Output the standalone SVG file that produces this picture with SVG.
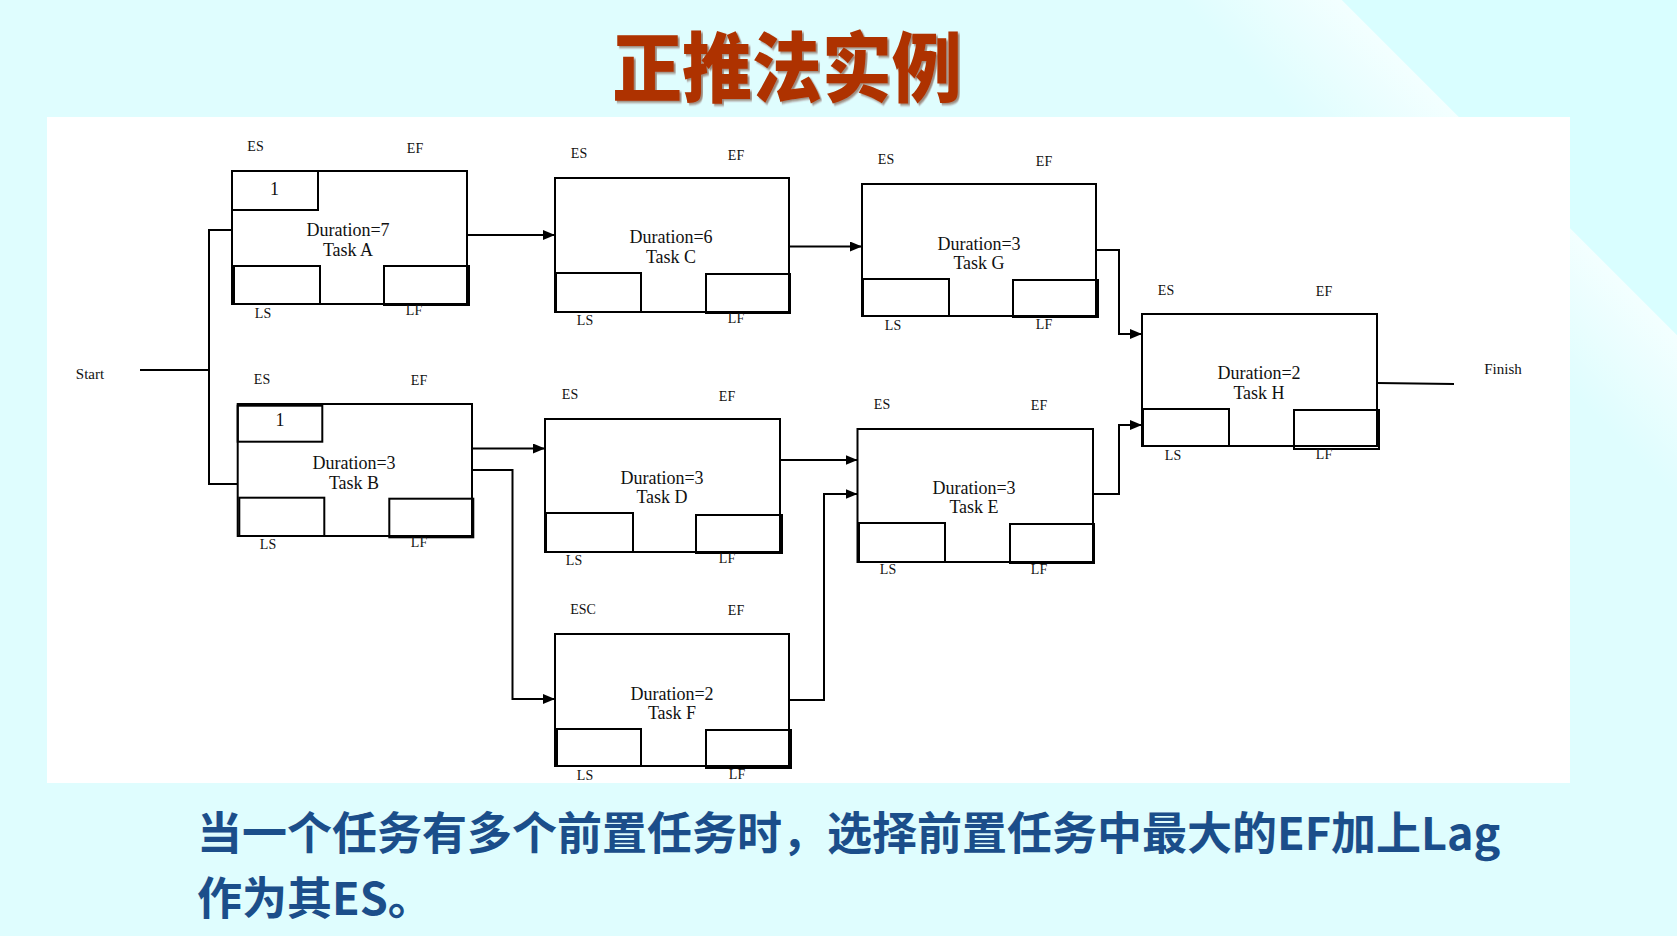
<svg xmlns="http://www.w3.org/2000/svg" width="1677" height="936" viewBox="0 0 1677 936">
<style>
.box{fill:#fff;stroke:#000;stroke-width:2}
.sub{fill:none;stroke:#000;stroke-width:2}
.lbl{font-family:"Liberation Serif",serif;font-size:14px;text-anchor:middle;fill:#111}
.end{font-family:"Liberation Serif",serif;font-size:15px;text-anchor:middle;fill:#111}
.dur{font-family:"Liberation Serif",serif;font-size:18px;text-anchor:middle;fill:#111}
.conn{fill:none;stroke:#000;stroke-width:2}
.arr{marker-end:url(#ah)}
.title{font-family:"Noto Sans CJK SC",sans-serif;font-weight:900;font-size:76px;fill:#AE3300;text-anchor:middle}
.note{font-family:"Noto Sans CJK SC",sans-serif;font-weight:700;font-size:45px;fill:#1B4E8A}
</style>
<defs>
<marker id="ah" viewBox="0 0 12 10" refX="12" refY="5" markerWidth="12" markerHeight="10" markerUnits="userSpaceOnUse" orient="auto">
<path d="M0,0 L12,5 L0,10 z" fill="#000"/>
</marker>
<linearGradient id="band" x1="1180" y1="0" x2="1261" y2="-81" gradientUnits="userSpaceOnUse">
<stop offset="0" stop-color="#F3FFFF" stop-opacity="0"/>
<stop offset="1" stop-color="#F3FFFF" stop-opacity="1"/>
</linearGradient>
<filter id="shadow" x="-5%" y="-5%" width="110%" height="120%">
<feDropShadow dx="2" dy="2" stdDeviation="0.8" flood-color="#5A1800" flood-opacity="0.5"/>
</filter>
</defs>
<rect x="0" y="0" width="1677" height="936" fill="#DFFDFE"/>
<polygon points="1180,0 1342,0 1677,335 1677,497" fill="url(#band)"/>
<polygon points="1342,0 1677,0 1677,335" fill="#D9FEFF"/>
<rect x="47" y="117" width="1523" height="666" fill="#FFFFFF"/>

<g id="title">
<text class="title" transform="translate(787,96) scale(0.92,1)" filter="url(#shadow)">正推法实例</text>
</g>

<g id="connectors">
<line class="conn" x1="140" y1="370" x2="209" y2="370"/>
<line class="conn" x1="209" y1="229" x2="209" y2="485"/>
<line class="conn" x1="208" y1="230" x2="232" y2="230"/>
<line class="conn" x1="208" y1="484" x2="244" y2="484"/>
<line class="conn arr" x1="467" y1="235" x2="555" y2="235"/>
<line class="conn arr" x1="789" y1="246.5" x2="862" y2="246.5"/>
<polyline class="conn arr" points="1096,250 1119,250 1119,334 1142,334"/>
<line class="conn arr" x1="473" y1="448.5" x2="545" y2="448.5"/>
<polyline class="conn arr" points="472,470 512.5,470 512.5,699 555,699"/>
<line class="conn arr" x1="780" y1="460" x2="857.5" y2="460"/>
<polyline class="conn arr" points="789,700 824,700 824,494 857.5,494"/>
<polyline class="conn arr" points="1093,494 1119,494 1119,425 1142,425"/>
<line class="conn" x1="1377" y1="383" x2="1454" y2="384"/>
</g>

<g id="start"><text class="end" x="90" y="379">Start</text></g>
<g id="finish"><text class="end" x="1503" y="373.5">Finish</text></g>

<g id="taskA">
<rect class="box" x="232" y="171" width="235" height="133"/>
<rect class="sub" x="232" y="171" width="86" height="39"/>
<rect class="sub" x="234" y="266" width="86" height="38"/>
<rect class="sub" x="384" y="266" width="85" height="39"/>
<text class="dur" x="274.6" y="194.5">1</text>
<text class="dur" x="348" y="236">Duration=7</text>
<text class="dur" x="348" y="255.5">Task A</text>
<text class="lbl" x="255.5" y="151">ES</text>
<text class="lbl" x="415" y="153">EF</text>
<text class="lbl" x="263" y="318">LS</text>
<text class="lbl" x="414" y="315">LF</text>
</g>

<g id="taskC">
<rect class="box" x="555" y="178" width="234" height="134"/>
<rect class="sub" x="556" y="273" width="85" height="39"/>
<rect class="sub" x="706" y="274" width="84" height="39"/>
<text class="dur" x="671" y="243">Duration=6</text>
<text class="dur" x="671" y="262.5">Task C</text>
<text class="lbl" x="579" y="158">ES</text>
<text class="lbl" x="736" y="160">EF</text>
<text class="lbl" x="585" y="324.5">LS</text>
<text class="lbl" x="736" y="323">LF</text>
</g>

<g id="taskG">
<rect class="box" x="862" y="184" width="234" height="132"/>
<rect class="sub" x="863" y="279" width="86" height="37"/>
<rect class="sub" x="1013" y="280" width="85" height="37"/>
<text class="dur" x="979" y="249.5">Duration=3</text>
<text class="dur" x="979" y="268.5">Task G</text>
<text class="lbl" x="886" y="163.5">ES</text>
<text class="lbl" x="1044" y="166">EF</text>
<text class="lbl" x="893" y="329.5">LS</text>
<text class="lbl" x="1044" y="328.5">LF</text>
</g>

<g id="taskH">
<rect class="box" x="1142" y="314" width="235" height="132"/>
<rect class="sub" x="1143" y="409" width="86" height="37"/>
<rect class="sub" x="1294" y="410" width="85" height="39"/>
<text class="dur" x="1259" y="378.5">Duration=2</text>
<text class="dur" x="1259" y="398.5">Task H</text>
<text class="lbl" x="1166" y="294.5">ES</text>
<text class="lbl" x="1324" y="296">EF</text>
<text class="lbl" x="1173" y="460">LS</text>
<text class="lbl" x="1324" y="458.5">LF</text>
</g>

<g id="taskB">
<rect class="box" x="237.7" y="404" width="234.3" height="132"/>
<rect class="sub" x="237.7" y="405.7" width="84.6" height="36"/>
<rect class="sub" x="239.3" y="497.7" width="85" height="38.3"/>
<rect class="sub" x="389.3" y="498.7" width="84" height="38.6"/>
<text class="dur" x="280" y="426">1</text>
<text class="dur" x="354" y="469">Duration=3</text>
<text class="dur" x="354" y="488.5">Task B</text>
<text class="lbl" x="262" y="383.5">ES</text>
<text class="lbl" x="419" y="385">EF</text>
<text class="lbl" x="268" y="548.5">LS</text>
<text class="lbl" x="419" y="547">LF</text>
</g>

<g id="taskD">
<rect class="box" x="545" y="419" width="235" height="133"/>
<rect class="sub" x="546" y="513" width="87" height="39"/>
<rect class="sub" x="696" y="515" width="86" height="38"/>
<text class="dur" x="662" y="484">Duration=3</text>
<text class="dur" x="662" y="503">Task D</text>
<text class="lbl" x="570" y="399">ES</text>
<text class="lbl" x="727" y="401">EF</text>
<text class="lbl" x="574" y="564.5">LS</text>
<text class="lbl" x="727" y="563">LF</text>
</g>

<g id="taskE">
<rect class="box" x="857.5" y="429" width="235.5" height="133"/>
<rect class="sub" x="859" y="523" width="86" height="39"/>
<rect class="sub" x="1010" y="524" width="84" height="39"/>
<text class="dur" x="974" y="493.5">Duration=3</text>
<text class="dur" x="974" y="512.5">Task E</text>
<text class="lbl" x="882" y="408.5">ES</text>
<text class="lbl" x="1039" y="410">EF</text>
<text class="lbl" x="888" y="574">LS</text>
<text class="lbl" x="1039" y="573.5">LF</text>
</g>

<g id="taskF">
<rect class="box" x="555" y="634" width="234" height="132"/>
<rect class="sub" x="557" y="729" width="84" height="37"/>
<rect class="sub" x="706" y="730" width="85" height="38"/>
<text class="dur" x="672" y="699.5">Duration=2</text>
<text class="dur" x="672" y="718.5">Task F</text>
<text class="lbl" x="583" y="613.5">ESC</text>
<text class="lbl" x="736" y="615">EF</text>
<text class="lbl" x="585" y="779.5">LS</text>
<text class="lbl" x="737" y="778.5">LF</text>
</g>

<g id="note">
<text class="note" x="197" y="850">当一个任务有多个前置任务时，选择前置任务中最大的EF加上Lag</text>
<text class="note" x="197" y="914.5">作为其ES。</text>
</g>
</svg>
